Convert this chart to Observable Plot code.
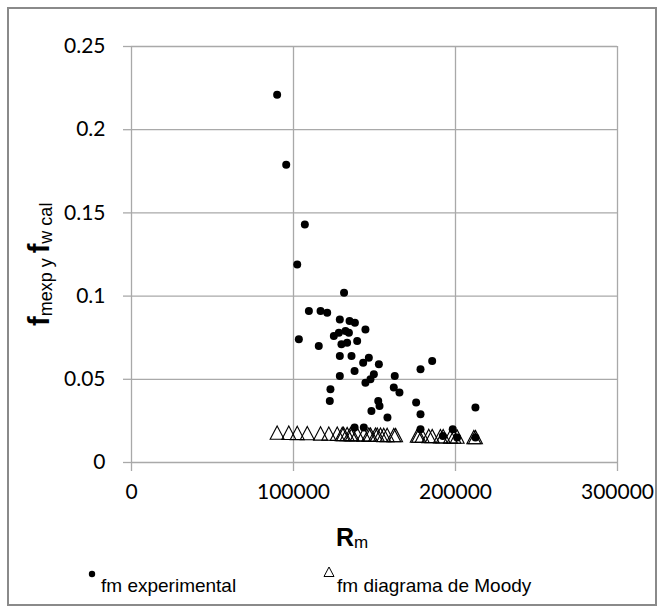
<!DOCTYPE html>
<html><head><meta charset="utf-8">
<script src="https://cdn.jsdelivr.net/npm/d3@7"></script>
<script src="https://cdn.jsdelivr.net/npm/@observablehq/plot@0.6"></script>
<style>
body{margin:0;background:#fff;}
#wrap{position:relative;width:664px;height:613px;overflow:hidden;background:#fff;}
#chart{position:absolute;left:0;top:0;}
#overlay{position:absolute;left:0;top:0;}
#border{position:absolute;left:7px;top:7px;width:646px;height:595px;border:2px solid #8a8a8a;}
</style></head>
<body>
<div id="wrap"><div id="chart"></div><svg id="overlay" width="664" height="613"></svg><div id="border"></div></div>
<script>
// Experimental friction factor (Reynolds, f)
const expRe = [89900,95500,107000,102300,131200,109500,116700,120800,128600,134600,137900,144400,103300,115600,124900,128000,132100,134200,129600,133100,139300,128600,135800,146500,143000,152700,137700,128600,149600,162500,178400,185600,144400,147500,161900,165400,122800,122400,152300,153100,148100,158000,175700,178400,212300,137700,143400,178400,198300,201000,192200,212300];
const expF  = [0.221,0.179,0.143,0.119,0.102,0.091,0.091,0.090,0.086,0.085,0.084,0.080,0.074,0.070,0.076,0.078,0.079,0.078,0.071,0.072,0.073,0.064,0.064,0.063,0.060,0.059,0.055,0.052,0.053,0.052,0.056,0.061,0.048,0.050,0.045,0.042,0.044,0.037,0.037,0.034,0.031,0.027,0.036,0.029,0.033,0.021,0.021,0.020,0.020,0.015,0.016,0.015];
// Moody diagram friction factor (Reynolds, f)
const moodyRe = [89900,97100,102300,108500,116700,121800,127000,130100,130900,133100,135200,136200,139300,143400,146500,147500,150600,151700,153700,155700,157800,161900,163000,176400,177300,179400,183500,185600,190700,192400,196900,199000,201000,211300,212300];
const moodyF  = [0.0178,0.0177,0.0176,0.0175,0.0173,0.0172,0.0171,0.0170,0.0170,0.0169,0.0169,0.0168,0.0168,0.0167,0.0166,0.0166,0.0165,0.0165,0.0165,0.0164,0.0164,0.0163,0.0163,0.0160,0.0160,0.0159,0.0158,0.0157,0.0156,0.0156,0.0155,0.0154,0.0154,0.0151,0.0151];
const xTicks = [0,100000,200000,300000];
const xTickLabels = ["0","100000","200000","300000"];
const yTicks = [0,0.05,0.1,0.15,0.2,0.25];
const yTickLabels = ["0","0.05","0.1","0.15","0.2","0.25"];
const legendLabels = ["fm experimental","fm diagrama de Moody"];

const expData = expRe.map((re,i)=>({re, f: expF[i]}));
const moodyData = moodyRe.map((re,i)=>({re, f: moodyF[i]}));

const hollowTriangle = {draw(ctx, size){const r=Math.sqrt(size/Math.PI); ctx.moveTo(0,-r); ctx.lineTo(r,r*0.92); ctx.lineTo(-r,r*0.92); ctx.closePath();}};
const gridColor = "#a9a9a9";

const plot = Plot.plot({
  width:664, height:613,
  marginLeft:131, marginRight:47, marginTop:46, marginBottom:151,
  style:{fontFamily:"Lato", fontSize:"21px", color:"#000", background:"transparent"},
  x:{domain:[0,300000]},
  y:{domain:[0,0.25]},
  marks:[
    Plot.gridX(xTicks,{stroke:gridColor, strokeOpacity:1, strokeWidth:1.3}),
    Plot.gridY(yTicks,{stroke:gridColor, strokeOpacity:1, strokeWidth:1.3}),
    Plot.axisX({ticks:xTicks, tickSize:9, tickPadding:13, stroke:gridColor, strokeWidth:1.3, fill:"#000", tickFormat:d=>xTickLabels[xTicks.indexOf(d)], label:null}),
    Plot.axisY({ticks:yTicks, tickSize:8, tickPadding:18, stroke:gridColor, strokeWidth:1.3, fill:"#000", tickFormat:d=>yTickLabels[yTicks.indexOf(d)], label:null}),
    Plot.dot(moodyData,{x:"re", y:"f", symbol:hollowTriangle, r:7, stroke:"#000", strokeWidth:1.1, fill:"none"}),
    Plot.dot(expData,{x:"re", y:"f", r:4, fill:"#000", stroke:"none"})
  ]
});
document.getElementById("chart").appendChild(plot);

const svg = d3.select("#overlay");
// x-axis title
const xt = svg.append("text").attr("x",336).attr("y",546).attr("font-family","Liberation Sans").attr("fill","#000");
xt.append("tspan").attr("font-size",25).attr("font-weight","bold").text("R");
xt.append("tspan").attr("font-size",17).attr("dy",2).text("m");
// y-axis title
const yt = svg.append("text").attr("transform","translate(49,326) rotate(-90)").attr("font-family","Liberation Sans").attr("fill","#000");
yt.append("tspan").attr("font-size",29).attr("font-weight","bold").text("f");
yt.append("tspan").attr("font-size",18).attr("dy",3).text("mexp y ");
yt.append("tspan").attr("font-size",29).attr("font-weight","bold").attr("dy",-3).text("f");
yt.append("tspan").attr("font-size",18).attr("dy",3).text("w cal");
// legend
svg.append("circle").attr("cx",92).attr("cy",574).attr("r",3.2).attr("fill","#000");
svg.append("text").attr("x",101).attr("y",592).attr("font-family","Liberation Sans").attr("font-size",19).attr("fill","#000").text(legendLabels[0]);
svg.append("path").attr("d","M329,567 L334,576.5 L324,576.5 Z").attr("fill","none").attr("stroke","#000").attr("stroke-width",1);
svg.append("text").attr("x",337).attr("y",592).attr("font-family","Liberation Sans").attr("font-size",19).attr("fill","#000").text(legendLabels[1]);
</script>
</body></html>
